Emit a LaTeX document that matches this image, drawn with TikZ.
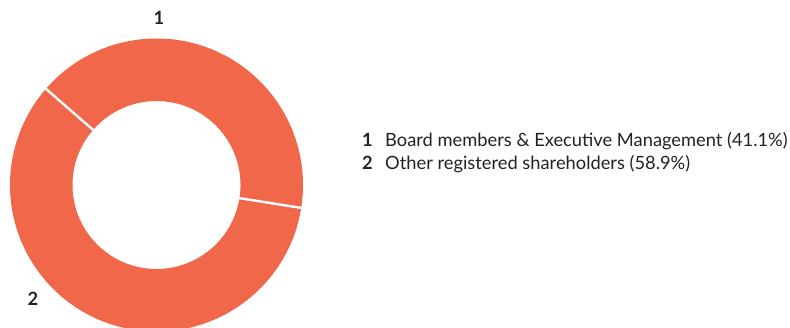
\documentclass[tikz,border=0pt]{standalone}
\usepackage{fontspec}
\setmainfont{Lato}
\usetikzlibrary{positioning}
\definecolor{shareorange}{RGB}{241,103,73}
\definecolor{sharetext}{RGB}{34,34,34}
\tikzset{
  plaintext/.style={font=\fontsize{18.3}{21}\selectfont, text=sharetext},
  numtext/.style={font=\fontsize{18.3}{21}\selectfont\bfseries, text=sharetext}
}
\newcommand{\donutslice}[2] {\fill [shareorange] (#1:146.5) arc (#1:#2:146.5) -- (#2:84) arc (#2:#1:84) -- cycle;}
\newcommand{\donutgap}[1] {\draw [white, line width=2.4] (#1:83) -- (#1:148);}
\newcommand{\slicelabel}[3] {\node [anchor=base, numtext] (#2) at (#1) {#3};}
\newcommand{\legendentry}[4] {\node [anchor=base west, inner sep=0pt, numtext] (#2) at (#1) {#3};
  \node [anchor=base west, inner sep=0pt, xshift=12, plaintext] (#2text) at (#2.base east) {#4};}
\begin{document}
\begin{tikzpicture}[x=1pt, y=1pt]
\useasboundingbox (0,0) rectangle (790,327);
\begin{scope}[shift={(156.5,142)}]
\donutslice{139}{-9}
\donutslice{-9}{-221}
\donutgap{139}
\donutgap{-9}
\end{scope}
\slicelabel{159,302}{sliceone}{1}
\slicelabel{33,22}{slicetwo}{2}
\legendentry{362,180.3}{legone}{1}{Board members \& Executive Management (41.1\%)}
\legendentry{362,157.7}{legtwo}{2}{Other registered shareholders (58.9\%)}
\end{tikzpicture}
\end{document}
